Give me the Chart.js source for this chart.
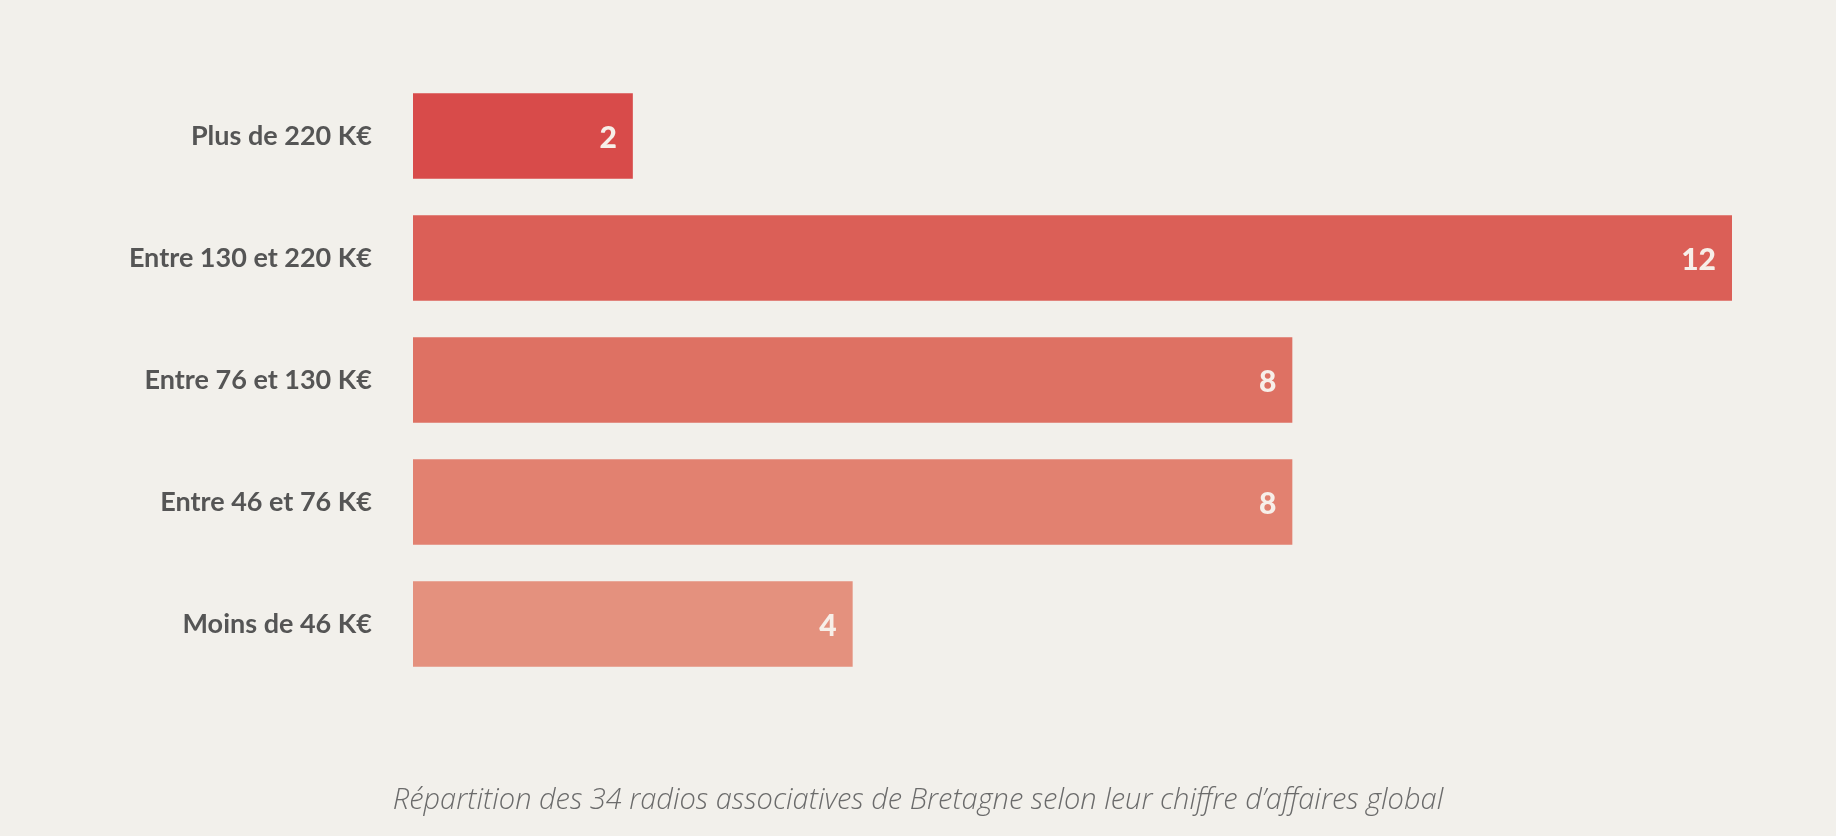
<!DOCTYPE html>
<html><head><meta charset="utf-8">
<script src="https://cdn.jsdelivr.net/npm/chart.js@4"></script>
<style>
html,body{margin:0;padding:0;background:#f2f0eb;width:1836px;height:836px;overflow:hidden}
#wrap{position:absolute;left:0;top:0;width:1836px;height:836px}
#cap{position:absolute;left:0;width:1836px;top:778px;text-align:center;font-family:"Open Sans";font-style:italic;font-weight:300;font-size:29px;color:#6b6b6b}
</style></head><body>
<div id="wrap"><canvas id="c" width="1836" height="836"></canvas></div>
<div id="cap">Répartition des 34 radios associatives de Bretagne selon leur chiffre d’affaires global</div>
<script>
const categories=["Plus de 220 K€","Entre 130 et 220 K€","Entre 76 et 130 K€","Entre 46 et 76 K€","Moins de 46 K€"];
const values=[2,12,8,8,4];
const colors=["#d84b4a","#db5f57","#de7163","#e28170","#e4917e"];
const valueLabels={id:'vl',afterDatasetsDraw(chart){const ctx=chart.ctx;const meta=chart.getDatasetMeta(0);ctx.save();ctx.fillStyle='#f7efe9';ctx.font='900 30px Lato';ctx.textAlign='right';ctx.textBaseline='middle';meta.data.forEach((b,i)=>{ctx.fillText(String(values[i]),b.x-16,b.y+2);});ctx.restore();}};
new Chart(document.getElementById('c'),{type:'bar',
data:{labels:categories,datasets:[{data:values,backgroundColor:colors,categoryPercentage:0.7,barPercentage:1}]},
options:{indexAxis:'y',responsive:false,animation:false,
layout:{padding:{top:75,bottom:151,right:104,left:0}},
plugins:{legend:{display:false},tooltip:{enabled:false}},
scales:{x:{display:false,min:0,max:12},
y:{grid:{display:false},border:{display:false},ticks:{color:'#555',font:{family:'Lato',weight:'bold',size:27},padding:33},afterFit(s){s.width=413;}}}},
plugins:[valueLabels]});
</script></body></html>
